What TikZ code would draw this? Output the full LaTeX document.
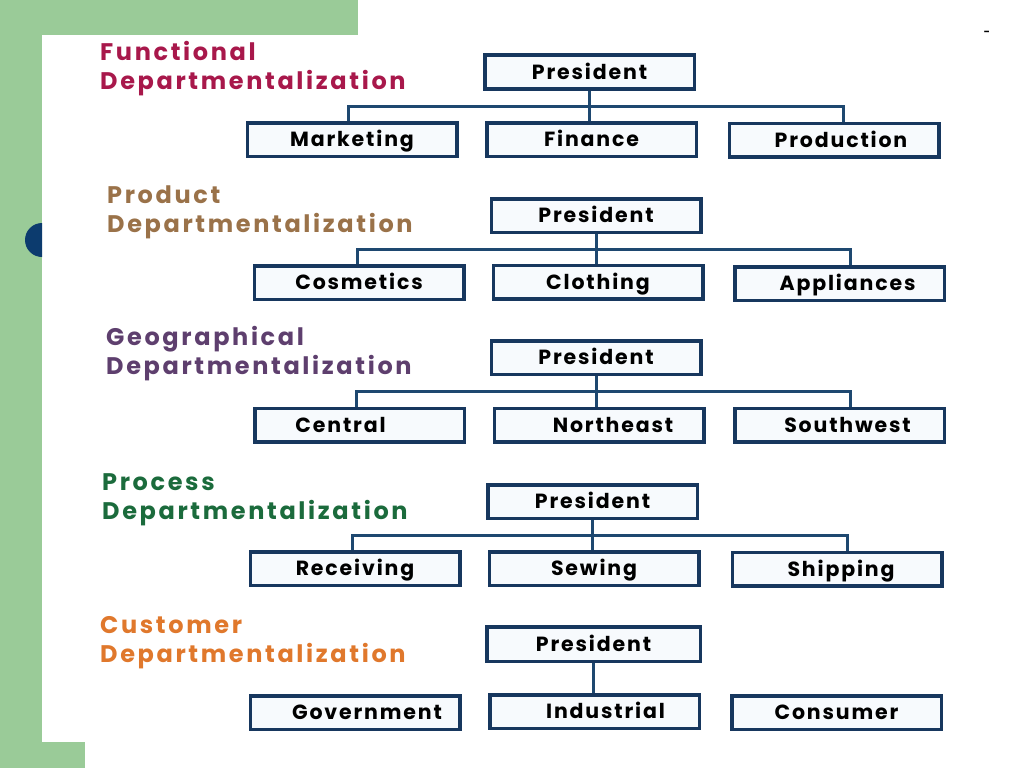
\documentclass[tikz,border=0pt]{standalone}
\usepackage{fontspec}
\newfontfamily\boxfont{Poppins}[LetterSpace=9]
\newfontfamily\titlefont{Poppins}[LetterSpace=11]
\definecolor{bggreen}{HTML}{9ACB98}
\definecolor{dotnavy}{HTML}{0C3B6E}
\definecolor{boxnavy}{HTML}{17375E}
\definecolor{boxfill}{HTML}{F7FAFD}
\definecolor{linkblue}{HTML}{1E4870}
\definecolor{cfunc}{HTML}{A8184B}
\definecolor{cprod}{HTML}{9A7249}
\definecolor{cgeo}{HTML}{5E3F6E}
\definecolor{cproc}{HTML}{1B6B3C}
\definecolor{ccust}{HTML}{E0782C}
\begin{document}
\begin{tikzpicture}[x=1pt,y=-1pt,
  dbox/.style={draw=boxnavy, line width=3.5pt, fill=boxfill, minimum width=209.5pt,
    minimum height=33.5pt, inner sep=0pt, text=black,
    font=\boxfont\bfseries\fontsize{20.5}{20.5}\selectfont, text height=14.8pt, text depth=0pt},
  link/.style={draw=linkblue, line width=3pt},
  ttl/.style={anchor=base west, inner sep=0pt,
    font=\titlefont\bfseries\fontsize{24}{24}\selectfont}]
\useasboundingbox (0,0) rectangle (1024,768);
% background
\fill[white] (0,0) rectangle (1024,768);
\fill[bggreen] (0,0) rectangle (358,35);
\fill[bggreen] (0,0) rectangle (42,768);
\fill[bggreen] (0,742) rectangle (85,768);
\begin{scope}
  \clip (0,0) rectangle (42,768);
  \fill[dotnavy] (42,240) circle (17);
\end{scope}
\node[inner sep=0pt, font=\bfseries\fontsize{16}{16}\selectfont] (dash) at (987,33) {-};

% titles
\node[ttl, text=cfunc] (t1a) at (100,60) {Functional};
\node[ttl, text=cfunc] (t1b) at (100,89) {Departmentalization};
\node[ttl, text=cprod] (t2a) at (107,203) {Product};
\node[ttl, text=cprod] (t2b) at (107,232) {Departmentalization};
\node[ttl, text=cgeo] (t3a) at (106,345) {Geographical};
\node[ttl, text=cgeo] (t3b) at (106,374) {Departmentalization};
\node[ttl, text=cproc] (t4a) at (102,490) {Process};
\node[ttl, text=cproc] (t4b) at (102,519) {Departmentalization};
\node[ttl, text=ccust] (t5a) at (100,633) {Customer};
\node[ttl, text=ccust] (t5b) at (100,662) {Departmentalization};

% row 1
\node[dbox] (p1) at (589.5,72) {President};
\node[dbox] (a1) at (352,139.5) {Marketing};
\node[dbox] (b1) at (591.5,139.5) {Finance};
\node[dbox] (c1) at (834,140) {\hspace*{14pt}Production};
\coordinate (h1l) at (348,106);
\coordinate (h1r) at (843,106);
\draw[link] (p1.south) -- (p1.south |- b1.north);
\draw[link] (h1l |- a1.north) -- (h1l) -- (h1r) -- (h1r |- c1.north);

% row 2
\node[dbox] (p2) at (596,215.5) {President};
\node[dbox] (a2) at (359,282.5) {Cosmetics};
\node[dbox] (b2) at (598,282) {Clothing};
\node[dbox] (c2) at (839.5,283.5) {\hspace*{16pt}Appliances};
\coordinate (h2l) at (357,249);
\coordinate (h2r) at (850,249);
\draw[link] (p2.south) -- (p2.south |- b2.north);
\draw[link] (h2l |- a2.north) -- (h2l) -- (h2r) -- (h2r |- c2.north);

% row 3
\node[dbox] (p3) at (596,357.5) {President};
\node[dbox] (a3) at (359.5,425) {Central\hspace*{38pt}};
\node[dbox] (b3) at (599,425) {\hspace*{28pt}Northeast};
\node[dbox] (c3) at (839.5,425) {\hspace*{16pt}Southwest};
\coordinate (h3l) at (356,391);
\coordinate (h3r) at (850,391);
\draw[link] (p3.south) -- (p3.south |- b3.north);
\draw[link] (h3l |- a3.north) -- (h3l) -- (h3r) -- (h3r |- c3.north);

% row 4
\node[dbox] (p4) at (592.5,501.5) {President};
\node[dbox] (a4) at (355,568.5) {Receiving};
\node[dbox] (b4) at (594,568.5) {Sewing};
\node[dbox] (c4) at (837,569) {\hspace*{8pt}Shipping};
\coordinate (h4l) at (352,535);
\coordinate (h4r) at (847,535);
\draw[link] (p4.south) -- (p4.south |- b4.north);
\draw[link] (h4l |- a4.north) -- (h4l) -- (h4r) -- (h4r |- c4.north);

% row 5
\node[dbox, minimum width=213.5pt, minimum height=34.5pt] (p5) at (593.5,644) {President};
\node[dbox] (a5) at (355,712.5) {\hspace*{24pt}Government};
\node[dbox] (b5) at (594.5,711.5) {\hspace*{22pt}Industrial};
\node[dbox] (c5) at (836.5,712.5) {Consumer};
\draw[link] (p5.south) -- (p5.south |- b5.north);
\end{tikzpicture}
\end{document}
